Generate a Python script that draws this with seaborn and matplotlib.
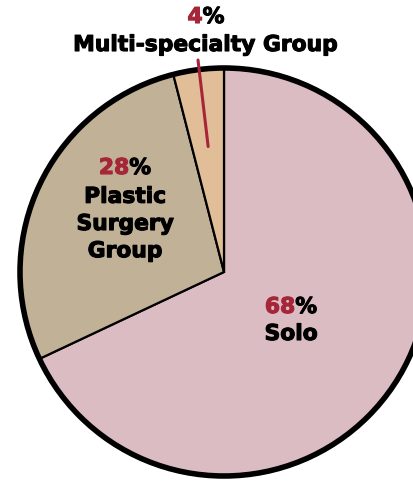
import numpy as np
import matplotlib.pyplot as plt
import matplotlib.patheffects as pe
import seaborn as sns

# practice setting share
categories = ["Solo", "Plastic\nSurgery\nGroup", "Multi-specialty Group"]
shares = [68, 28, 4]
slice_colors = ["#DCBCC3", "#C1B297", "#E1BD98"]

RED = "#A62639"
W, H = 413, 482


def heavy(color):
    # thicken the bold glyphs a little
    return [pe.withStroke(linewidth=0.8, foreground=color)]


def two_tone(ax, x, y, num, **kw):
    # number in red, percent sign in black, centred as a unit
    full = ax.text(x, y, f"{num}%", ha="center", va="center", alpha=0, **kw)
    ax.annotate(str(num), xy=(0, 0), xycoords=full, ha="left", va="bottom",
                color=RED, path_effects=heavy(RED), **kw)
    ax.annotate("%", xy=(1, 0), xycoords=full, ha="right", va="bottom",
                color="black", path_effects=heavy("black"), **kw)


def plot():
    sns.set_style("white")
    plt.rcParams["font.family"] = ["DejaVu Sans"]
    plt.rcParams["text.color"] = "black"
    font = dict(fontsize=15.7, fontweight="bold")

    fig = plt.figure(figsize=(W / 100, H / 100), dpi=100)
    ax = fig.add_axes([0, 0, 1, 1])

    cx, cy, r = 224, H - 272, 204
    wedges, _ = ax.pie(
        shares,
        colors=sns.color_palette(slice_colors),
        startangle=90,
        counterclock=False,
        center=(cx, cy),
        radius=r,
        frame=True,
        wedgeprops=dict(edgecolor="black", linewidth=1.6),
    )
    ax.add_patch(plt.Circle((cx, cy), r, fill=False, edgecolor="black", linewidth=4, zorder=5))

    ax.set_xlim(0, W)
    ax.set_ylim(0, H)
    ax.set_aspect("equal")
    ax.axis("off")

    # Solo
    two_tone(ax, 291, H - 307, shares[0], **font)
    ax.text(291, H - 334, categories[0], ha="center", va="center",
            path_effects=heavy("black"), **font)

    # Plastic Surgery Group
    two_tone(ax, 125, H - 168, shares[1], **font)
    ax.text(125, H - 224, categories[1], ha="center", va="center", linespacing=1.45,
            path_effects=heavy("black"), **font)

    # Multi-specialty Group, outside with leader line
    two_tone(ax, 206, H - 17, shares[2], **font)
    ax.text(205, H - 45, categories[2], ha="center", va="center",
            path_effects=heavy("black"), **font)
    w = wedges[2]
    mid = np.deg2rad((w.theta1 + w.theta2) / 2)
    tip = (cx + 0.62 * r * np.cos(mid), cy + 0.62 * r * np.sin(mid))
    ax.plot([198, tip[0]], [H - 60, tip[1]], color=RED, linewidth=2.2, zorder=6)

    fig.savefig("out.png", dpi=100)


if __name__ == "__main__":
    plot()
